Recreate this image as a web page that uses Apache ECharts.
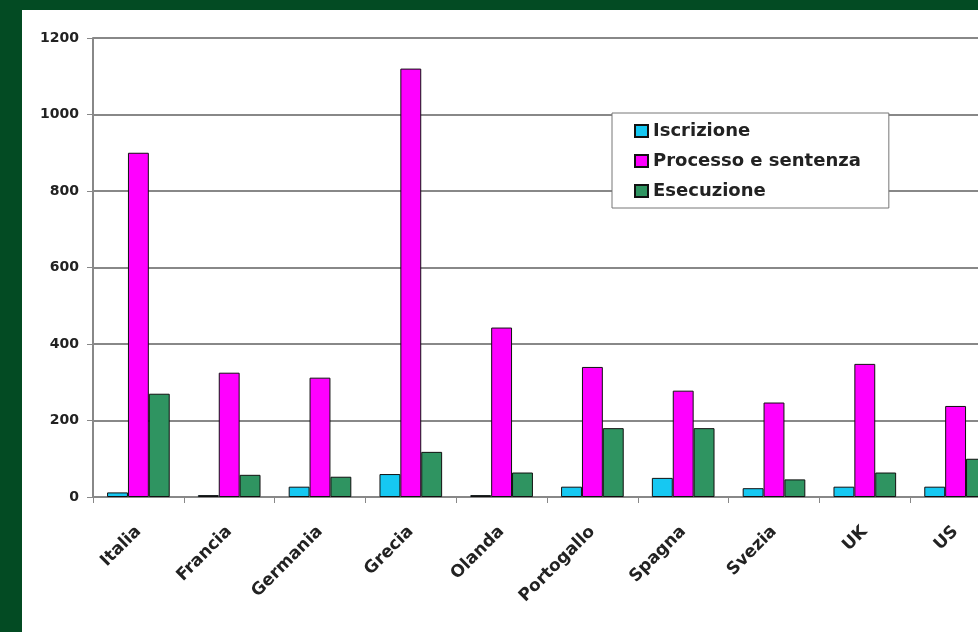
<!DOCTYPE html>
<html>
<head>
<meta charset="utf-8">
<script src="https://cdn.jsdelivr.net/npm/echarts@6/dist/echarts.min.js"></script>
<style>
  html, body { margin: 0; padding: 0; }
  body { width: 978px; height: 632px; background: #034b23; position: relative; overflow: hidden; }
  #chart { position: absolute; left: 22px; top: 10px; width: 956px; height: 622px; background: #ffffff; }
</style>
</head>
<body>
<div id="chart"></div>
<script>
  var categories = ['Italia', 'Francia', 'Germania', 'Grecia', 'Olanda', 'Portogallo', 'Spagna', 'Svezia', 'UK', 'US'];
  var iscrizione = [12, 5, 27, 60, 5, 27, 50, 23, 27, 27];
  var processo = [900, 325, 312, 1120, 443, 340, 278, 247, 348, 238];
  var esecuzione = [270, 58, 53, 118, 64, 180, 180, 46, 64, 100];

  var myChart = echarts.init(document.getElementById('chart'));

  var font = 'DejaVu Sans';
  var bar = function (name, data, color) {
    return {
      name: name,
      type: 'bar',
      data: data,
      barGap: '0%',
      barCategoryGap: '31%',
      itemStyle: { color: color, borderColor: '#111', borderWidth: 1 }
    };
  };

  myChart.setOption({
    animation: false,
    backgroundColor: '#ffffff',
    // the plot runs past the right edge, as in the cropped original
    grid: { left: 71, top: 28, width: 908, height: 459, outerBoundsMode: 'none', containLabel: false },
    legend: {
      orient: 'vertical',
      left: 590,
      top: 103,
      backgroundColor: '#ffffff',
      borderColor: '#777',
      borderWidth: 1,
      padding: [9, 28, 8, 22],
      itemWidth: 13,
      itemHeight: 12,
      itemGap: 12,
      icon: 'rect',
      textStyle: { fontFamily: font, fontWeight: 'bold', fontSize: 18, color: '#222' },
      data: ['Iscrizione', 'Processo e sentenza', 'Esecuzione']
    },
    xAxis: {
      type: 'category',
      data: categories,
      axisLine: { lineStyle: { color: '#888', width: 2 } },
      axisTick: { show: true, length: 6, lineStyle: { color: '#888' } },
      axisLabel: {
        rotate: 45,
        margin: 32,
        fontFamily: font,
        fontWeight: 'bold',
        fontSize: 17,
        color: '#222'
      }
    },
    yAxis: {
      type: 'value',
      min: 0,
      max: 1200,
      interval: 200,
      axisLine: { show: true, lineStyle: { color: '#888', width: 2 } },
      axisTick: { show: true, length: 6, lineStyle: { color: '#888' } },
      axisLabel: {
        margin: 14,
        fontFamily: font,
        fontWeight: 'bold',
        fontSize: 14,
        color: '#222',
        formatter: function (v) { return String(v); }
      },
      splitLine: { lineStyle: { color: '#888', width: 2 } }
    },
    series: [
      bar('Iscrizione', iscrizione, '#16c8f2'),
      bar('Processo e sentenza', processo, '#ff00ff'),
      bar('Esecuzione', esecuzione, '#2f9461')
    ]
  });
</script>
</body>
</html>
